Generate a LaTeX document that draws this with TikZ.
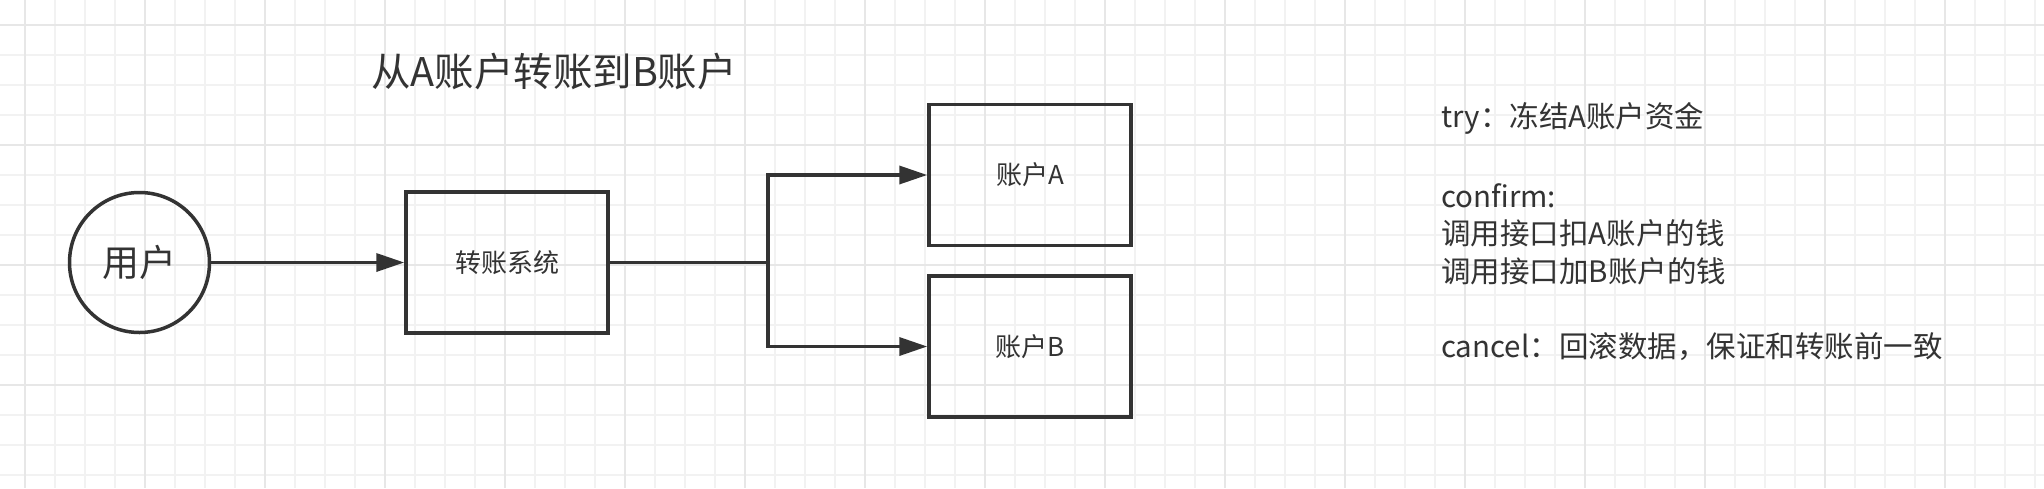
\documentclass[tikz,border=0pt]{standalone}
\usepackage{fontspec}
\setmainfont{Noto Sans CJK SC}
\usetikzlibrary{arrows.meta}
\definecolor{ink}{HTML}{333333}
\definecolor{gridminor}{HTML}{F2F2F2}
\definecolor{gridmajor}{HTML}{E7E7E7}
\tikzset{
  boxnode/.style={draw=ink, line width=3.5pt, rectangle, minimum width=202pt, minimum height=141pt, inner sep=0pt, text=ink, font=\fontsize{26}{31}\selectfont},
  usernode/.style={draw=ink, line width=3.5pt, circle, minimum size=140pt, inner sep=0pt, text=ink, font=\fontsize{37}{44}\selectfont},
  conn/.style={draw=ink, line width=3.5pt},
  arrowconn/.style={conn, -{Triangle[length=28pt,width=18pt]}},
  notetext/.style={anchor=west, inner sep=0pt, text=ink, font=\fontsize{29.5}{35}\selectfont},
  titletext/.style={inner sep=0pt, text=ink, font=\fontsize{39.5}{47}\selectfont}
}
\begin{document}
\begin{tikzpicture}[x=1pt,y=-1pt]
\useasboundingbox (0,0) rectangle (2044,488);
\fill[white] (0,0) rectangle (2044,488);
% grid
\foreach \gx in {25,55,...,2035} \draw[gridminor, line width=1.5pt] (\gx,0) -- (\gx,488);
\foreach \gy in {25,55,...,475} \draw[gridminor, line width=1.5pt] (0,\gy) -- (2044,\gy);
\foreach \gx in {25,145,...,1945} \draw[gridmajor, line width=2pt] (\gx,0) -- (\gx,488);
\foreach \gy in {25,145,...,385} \draw[gridmajor, line width=2pt] (0,\gy) -- (2044,\gy);

% title
\node[titletext] (title) at (554,72) {从A账户转账到B账户};

% nodes
\node[usernode] (user) at (139.5,262.5) {用户};
\node[boxnode] (sys) at (507,262.5) {转账系统};
\node[boxnode] (acA) at (1030,175) {账户A};
\node[boxnode] (acB) at (1030,346.5) {账户B};
\coordinate (branch) at (768,262.5);

% connectors
\draw[arrowconn] (user) -- (sys);
\draw[conn] (sys.east) -- (branch);
\draw[arrowconn] (branch) |- (acA.west);
\draw[arrowconn] (branch) |- (acB.west);

% notes
\node[notetext] (t1) at (1441,118) {try：冻结A账户资金};
\node[notetext] (t2) at (1441,196) {confirm:};
\node[notetext] (t3) at (1441,233) {调用接口扣A账户的钱};
\node[notetext] (t4) at (1441,271) {调用接口加B账户的钱};
\node[notetext] (t5) at (1441,347) {cancel：回滚数据，保证和转账前一致};
\end{tikzpicture}
\end{document}
